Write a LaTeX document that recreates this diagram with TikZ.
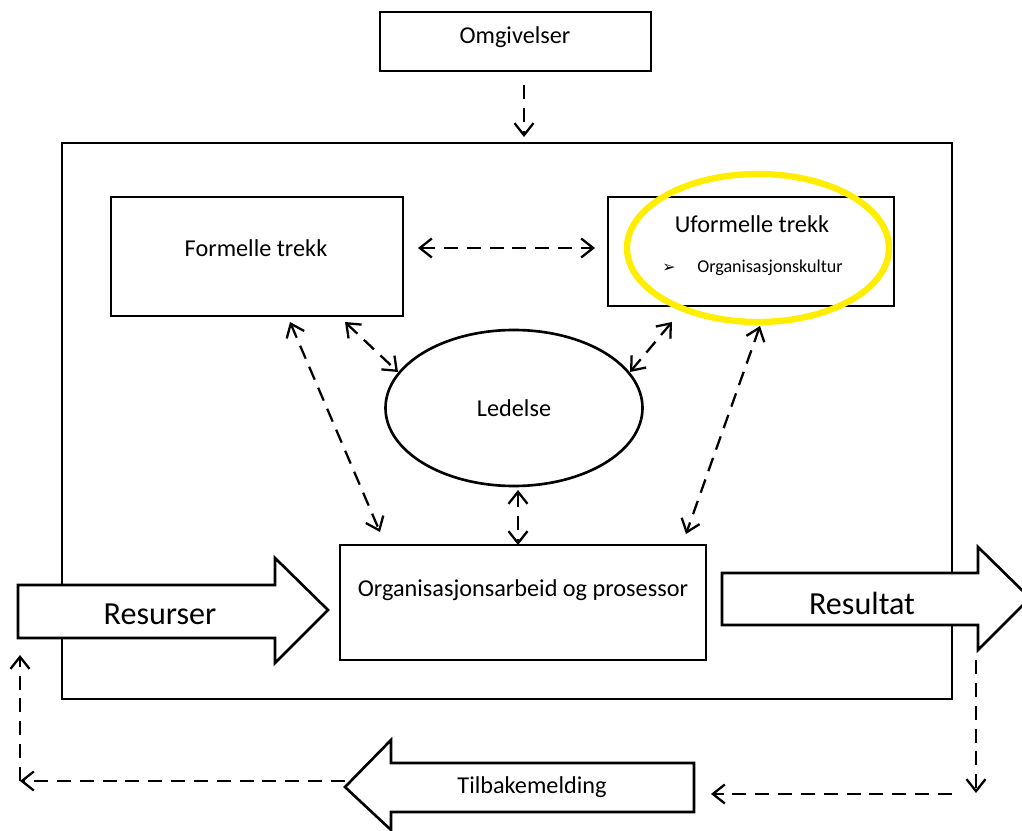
\documentclass[tikz,border=0pt]{standalone}
\usepackage{fontspec}
\setmainfont{Carlito}
\usetikzlibrary{arrows.meta,shapes.geometric,fit}
\definecolor{hl}{RGB}{255,238,0}
\tikzset{
  box/.style={draw, line width=1.5pt, inner sep=0pt, fill=white},
  lbl/.style={inner sep=0pt, font=\fontsize{13.8}{16}\selectfont},
  big/.style={inner sep=0pt, font=\fontsize{18.3}{20}\selectfont},
  dar/.style={dashed, dash pattern=on 8pt off 5pt, line width=1.3pt, {Straight Barb[length=2.4mm,width=3.8mm]}-{Straight Barb[length=2.4mm,width=3.8mm]}},
  sar/.style={dashed, dash pattern=on 8pt off 5pt, line width=1.3pt, -{Straight Barb[length=2.4mm,width=3.8mm]}},
  bigarrow/.style={draw, line width=1.5pt, fill=white, line join=miter},
}
\begin{document}
\begin{tikzpicture}[x=0.02cm,y=-0.02cm]
\useasboundingbox (0,0) rectangle (1022,831);
\clip (0,0) rectangle (1022,831);
% outer frame
\node[box, fit={(62,143) (952,699)}] (outer) {};
% Omgivelser
\node[box, fit={(380,12) (651,71)}] (omg) {};
\node[lbl] (omgt) at (515,37) {Omgivelser};
% Formelle
\node[box, fit={(111,197) (403,316)}] (form) {};
\node[lbl] (formt) at (256,248) {Formelle trekk};
% Uformelle
\node[box, fit={(608,197) (894,306)}] (uform) {};
\node[lbl] (uformt) at (752,224) {Uformelle trekk};
\node[inner sep=0pt, font=\fontsize{10.3}{12}\selectfont] (bul) at (770,268) {Organisasjonskultur};
\node[inner sep=0pt, font=\fontsize{9}{10}\selectfont\fontspec{DejaVu Sans}] (bulm) at (669,268) {➢};
% Ledelse
\node[draw, line width=1.5pt, ellipse, minimum width=257*0.02cm, minimum height=156*0.02cm, inner sep=0pt] (led) at (514,408) {};
\node[lbl] (ledt) at (514,408) {Ledelse};
% Org
\node[box, fit={(340,545) (706,660)}] (org) {};
\node[lbl] (orgt) at (523,590) {Organisasjonsarbeid og prosessor};
% yellow ellipse
\node[draw=hl, line width=3.6pt, ellipse, minimum width=262*0.02cm, minimum height=148*0.02cm, inner sep=0pt] (hlell) at (758,248) {};
% big arrows
\draw[bigarrow] (18,585) -- (275,585) -- (275,558) -- (328,610) -- (275,663) -- (275,638) -- (18,638) -- cycle;
\node[big] (res) at (160,614) {Resurser};
\draw[bigarrow] (722,573) -- (978,573) -- (978,547) -- (1030,598) -- (978,650) -- (978,625) -- (722,625) -- cycle;
\node[big] (resu) at (862,603) {Resultat};
\draw[bigarrow] (694,763) -- (391,763) -- (391,740) -- (345,787) -- (391,830) -- (391,812) -- (694,812) -- cycle;
\coordinate (tiptb) at (345,781);
\node[lbl] (tb) at (532,787) {Tilbakemelding};
% coordinates
\coordinate (o1) at (524,85);
\coordinate (o2) at (524,137);
\coordinate (fu1) at (418,248);
\coordinate (fu2) at (595,248);
\coordinate (fl1) at (345,322);
\coordinate (fl2) at (398,372);
\coordinate (ul1) at (672,322);
\coordinate (ul2) at (630,372);
\coordinate (fo1) at (290,322);
\coordinate (fo2) at (380,532);
\coordinate (uo1) at (760,326);
\coordinate (uo2) at (686,534);
\coordinate (lo1) at (518,490);
\coordinate (lo2) at (518,545);
\coordinate (r1) at (976,660);
\coordinate (r2) at (976,793);
\coordinate (b1) at (952,794);
\coordinate (b2) at (711,794);
\coordinate (c1) at (20,781);
\coordinate (c2) at (20,655);
% dashed connectors
\draw[sar] (o1) -- (o2);
\draw[dar] (fu1) -- (fu2);
\draw[dar] (fl1) -- (fl2);
\draw[dar] (ul1) -- (ul2);
\draw[dar] (fo1) -- (fo2);
\draw[dar] (uo1) -- (uo2);
\draw[dar] (lo1) -- (lo2);
\draw[sar] (r1) -- (r2);
\draw[sar] (b1) -- (b2);
\draw[sar] (tiptb) -- (c1);
\draw[sar] (c1) -- (c2);
\end{tikzpicture}
\end{document}
